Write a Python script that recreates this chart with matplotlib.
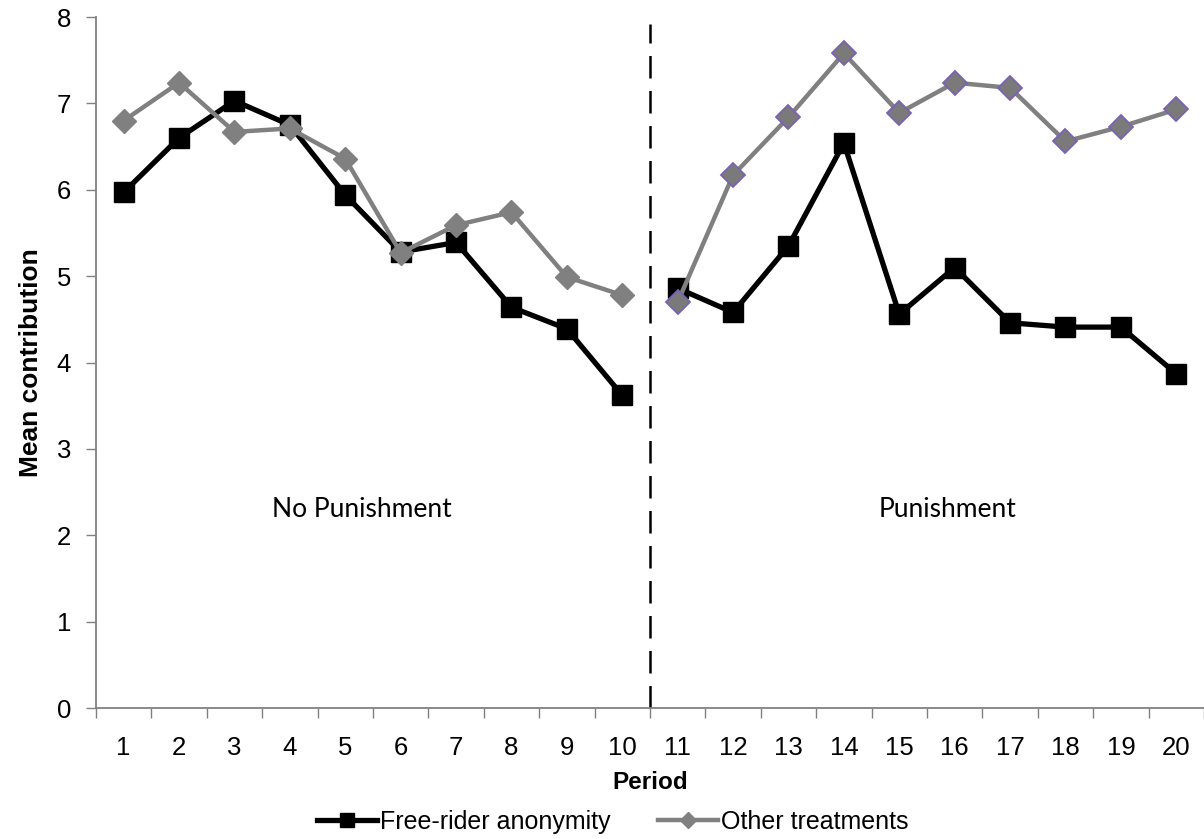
import matplotlib.pyplot as plt
import numpy as np

periods = list(range(1, 21))
free_rider = [5.97, 6.60, 7.03, 6.75, 5.94, 5.28, 5.39, 4.64, 4.39, 3.62,
              4.86, 4.58, 5.35, 6.54, 4.56, 5.10, 4.46, 4.41, 4.41, 3.87]
other = [6.80, 7.24, 6.67, 6.71, 6.36, 5.27, 5.59, 5.74, 4.99, 4.78,
         4.70, 6.17, 6.84, 7.58, 6.89, 7.24, 7.18, 6.56, 6.73, 6.93]
phase_labels = ["No Punishment", "Punishment"]

plt.rcParams['font.family'] = ['Liberation Sans', 'DejaVu Sans']

fig = plt.figure(figsize=(12.04, 8.39), dpi=100)
ax = fig.add_axes([0.0797, 0.1561, 0.9203, 0.8236])

x = np.array(periods)
fr = np.array(free_rider)
ot = np.array(other)
first = x <= 10
second = x > 10

# black series, broken between the two phases
ax.plot(x[first], fr[first], color='black', lw=3.8, marker='s', ms=15,
        label='Free-rider anonymity', zorder=3)
ax.plot(x[second], fr[second], color='black', lw=3.8, marker='s', ms=15, zorder=3)

# grey series
ax.plot(x[first], ot[first], color='#808080', lw=3.2, marker='D', ms=12,
        mfc='#808080', mec='#808080', label='Other treatments', zorder=4)
ax.plot(x[second], ot[second], color='#808080', lw=3.2, marker='D', ms=12,
        mfc='#7a7a7a', mec='#7b62b0', mew=1.3, zorder=4)

ax.axvline(10.5, ymin=0, ymax=0.99, color='black', lw=1.8,
           linestyle=(0, (9, 5)), zorder=2)

ax.text(5.3, 2.3, phase_labels[0], fontsize=19, family='Lato',
        ha='center', va='center')
ax.text(15.88, 2.3, phase_labels[1], fontsize=19, family='Lato',
        ha='center', va='center')

ax.set_xlim(0.5, 20.5)
ax.set_ylim(0, 8)
ax.set_yticks(range(0, 9))
ax.set_xticks(periods)
ax.set_xticks(np.arange(0.5, 21, 1), minor=True)
ax.tick_params(axis='x', which='major', length=0, pad=20, labelsize=18.5)
ax.tick_params(axis='x', which='minor', length=7, width=1, color='#808080')
ax.tick_params(axis='y', length=7, width=1, color='#808080', pad=11, labelsize=18.5)

for side in ['top', 'right']:
    ax.spines[side].set_visible(False)
for side in ['left', 'bottom']:
    ax.spines[side].set_color('#808080')
    ax.spines[side].set_linewidth(1.3)

ax.set_xlabel('Period', fontsize=17.5, fontweight='bold', labelpad=8)
ax.set_ylabel('Mean contribution', fontsize=19, fontweight='bold', labelpad=10)

ax.legend(loc='center', bbox_to_anchor=(0.466, -0.165), ncol=2, frameon=False,
          fontsize=18, handlelength=2.4, handletextpad=0.12, columnspacing=1.9,
          markerscale=0.7)

fig.savefig('out.png', dpi=100)
